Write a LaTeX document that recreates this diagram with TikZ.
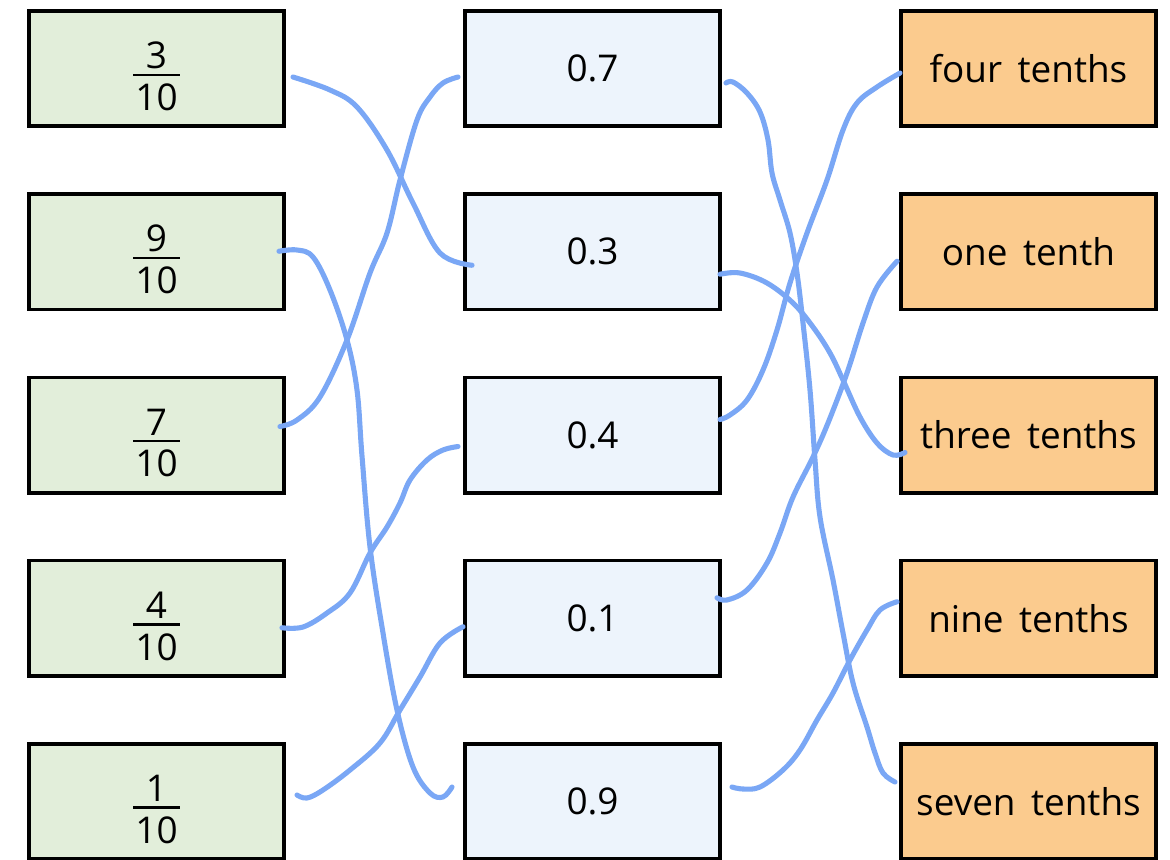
\documentclass[tikz,border=0pt]{standalone}
\usepackage{fontspec}
\setmainfont{Open Sans}
\usepackage{tikz}
\definecolor{fracfill}{RGB}{226,238,218}
\definecolor{decfill}{RGB}{237,244,252}
\definecolor{wordfill}{RGB}{251,203,142}
\definecolor{pen}{RGB}{122,167,245}
\newcommand{\RowGap}{183.25}
\newcommand{\gap}{\hspace{0.42em}}
% stacked fraction, set a little below the middle of the card
\newcommand{\fr}[2]{\vbox{\kern9pt\halign{\hfil\kern1.2pt##\kern1.2pt\hfil\cr
  #1\cr\noalign{\kern2.8pt\hrule height 1.3pt\kern4.4pt}#2\cr}}}
\tikzset{
  card/.style={draw, line width=2pt, minimum width=5.11cm, minimum height=2.31cm,
    inner sep=0pt, font=\fontsize{21}{25}\selectfont},
  fracA/.style={card, fill=fracfill},   % left column
  decB/.style={card, fill=decfill},     % middle column
  wordC/.style={card, fill=wordfill},   % right column
  link/.style={draw=pen, line width=2.9pt, line cap=round, line join=round}
}

\begin{document}
\begin{tikzpicture}[x=0.02cm, y=-0.02cm]
  \useasboundingbox (0,0) rectangle (1170,859);
  \clip (0,0) rectangle (1170,859);
  % three columns of cards
  \foreach \nm/\num [count=\i from 0] in {f3/3,f9/9,f7/7,f4/4,f1/1}
    \node[fracA] (\nm) at (156.5,{68.5+\i*\RowGap}) {\fr{\num}{10}};
  \foreach \nm/\txt [count=\i from 0] in {d7/0.7,d3/0.3,d4/0.4,d1/0.1,d9/0.9}
    \node[decB] (\nm) at (592.5,{68.5+\i*\RowGap}) {\txt};
  \foreach \nm/\txt [count=\i from 0] in {w4/four\gap tenths,w1/one\gap tenth,
      w3/three\gap tenths,w9/nine\gap tenths,w7/seven\gap tenths}
    \node[wordC] (\nm) at (1028.5,{68.5+\i*\RowGap}) {\txt};
  % fractions to decimals
  \draw[link] plot[smooth, tension=0.6] coordinates {([shift={(7,8.5)}]f3.east)
    (330,90) (357,107) (387,150) (413,203) (440,253) ([shift={(9,13.5)}]d3.west)};
  \draw[link] plot[smooth, tension=0.6] coordinates {([shift={(-6,-8.5)}]f7.east)
    (297,420) (320,397) (347,340) (370,273) (387,233) (400,180) (417,120) (430,97)
    (443,83) ([shift={(-5,8.5)}]d7.west)};
  \draw[link] plot[smooth, tension=0.6] coordinates {([shift={(-7,-0.5)}]f9.east)
    (297,250) (313,257) (330,290) (347,340) (357,390) (362,456) (370,547) (383,633)
    (397,710) (413,767) (430,793) (443,797) ([shift={(-11,-14.5)}]d9.west)};
  \draw[link] plot[smooth, tension=0.6] coordinates {([shift={(-4,9.5)}]f4.east)
    (303,627) (327,613) (350,593) (370,553) (387,527) (400,503) (410,480) (427,460)
    (443,450) ([shift={(-5,11.5)}]d4.west)};
  \draw[link] plot[smooth, tension=0.6] coordinates {([shift={(11,-6.5)}]f1.east)
    (307,798) (323,790) (350,770) (380,743) (400,710) (420,677) (440,643)
    ([shift={(0,8.5)}]d1.west)};
  % decimals to words
  \draw[link] plot[smooth, tension=0.6] coordinates {([shift={(4,14.5)}]d7.east)
    (733,82) (747,93) (760,112) (768,140) (772,173) (780,200) (790,233) (797,273)
    (803,323) (810,390) (815,460) (820,517) (833,580) (843,633) (853,683) (867,727)
    (875,753) (883,773) ([shift={(-4,-19.5)}]w7.west)};
  \draw[link] plot[smooth, tension=0.6] coordinates {([shift={(-2,22.5)}]d3.east)
    (740,273) (767,283) (793,303) (813,327) (830,353) (843,380) (860,417) (877,443)
    (893,455) ([shift={(6,17.5)}]w3.west)};
  \draw[link] plot[smooth, tension=0.6] coordinates {([shift={(-2,-15.5)}]d4.east)
    (730,415) (747,400) (763,370) (777,330) (790,283) (807,233) (827,180) (843,130)
    (857,103) (877,87) ([shift={(1,4.5)}]w4.west)};
  \draw[link] plot[smooth, tension=0.6] coordinates {([shift={(-5,-20.5)}]d1.east)
    (727,600) (747,590) (767,563) (780,533) (793,497) (813,457) (828,423) (847,373)
    (863,323) (877,287) ([shift={(-2,9.5)}]w1.west)};
  \draw[link] plot[smooth, tension=0.6] coordinates {([shift={(10,-14.5)}]d9.east)
    (743,789) (760,787) (783,770) (800,750) (817,720) (833,693) (850,660) (867,630)
    (880,610) ([shift={(-2,-16.5)}]w9.west)};
\end{tikzpicture}
\end{document}
